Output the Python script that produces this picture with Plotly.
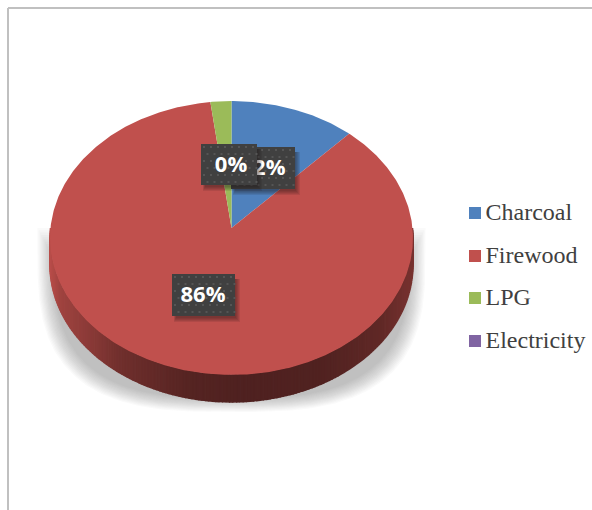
import math
import numpy as np
import plotly.graph_objects as go

categories = ["Charcoal", "Firewood", "LPG", "Electricity"]
values = [12, 86, 2, 0]
colors = ["#4f81bd", "#c0504d", "#9bbb59", "#8064a2"]
label_texts = ["12%", "86%", "0%"]

# projection of the tilted pie onto the picture
CX, CY, RX, RY, PERSP, DEPTH = 231.5, 228.0, 181.0, 136.2, 0.073, 27.0


def project(theta, scale=1.0, dy=0.0):
    s, c = np.sin(theta), np.cos(theta)
    d = 1 + PERSP * c
    return CX + scale * RX * s / d, CY + dy - scale * RY * c / d


fig = go.Figure()


def poly(xs, ys, fill, line=None, width=1.0):
    fig.add_trace(go.Scatter(x=list(xs), y=list(ys), mode="lines", fill="toself", fillcolor=fill,
                             line=dict(color=line or "rgba(0,0,0,0)", width=width if line else 0),
                             hoverinfo="skip", showlegend=False))


# soft, boxy shadow under the pie
N = 14
for i in range(N):
    f = i / (N - 1)
    a = 194 - 16 * f
    b = 162 - 14 * f
    top = 228 + 30 * f
    u = np.linspace(0, math.pi, 160)
    x = CX + a * np.sign(np.cos(u)) * np.abs(np.cos(u)) ** (2 / 3)
    y = 250 + b * np.abs(np.sin(u)) ** (2 / 3)
    poly(np.concatenate([[x[0]], x, [x[-1]]]), np.concatenate([[top], y, [top]]), "rgba(110,110,110,0.032)")

# pie wall with gradient
g_x = [50, 60, 90, 120, 190, 240, 320, 380, 413]
g_r = [0xb8, 0xa0, 0x8a, 0x70, 0x55, 0x4f, 0x50, 0x60, 0x78]
edges = np.radians(np.linspace(90, 270, 180))
for a, b in zip(edges[:-1], edges[1:]):
    tt = np.linspace(a, b, 3)
    xt, yt = project(tt)
    xb, yb = project(tt[::-1], 1.0, DEPTH)
    r = float(np.interp(xt.mean(), g_x, g_r))
    col = f"rgb({r:.1f},{r * 0.42:.1f},{r * 0.40:.1f})"
    poly(np.concatenate([xt, xb]), np.concatenate([yt, yb]), col, line=col, width=1.5)

# top surface of the pie, driven by the values
start = 0.0
total = sum(values)
for v, c in zip(values, colors):
    sweep = 2 * math.pi * v / total
    if v > 0:
        tt = np.linspace(start, start + sweep, max(3, int(v * 6)))
        x, y = project(tt)
        poly(np.concatenate([[CX], x, [CX]]), np.concatenate([[CY], y, [CY]]), c)
    start += sweep


def label_box(x0, x1, y0, y1, text, tx, ty):
    # shadow
    for k in range(5):
        o = 1 + k
        poly([x0 + 4 - k * 0.5, x1 + o, x1 + o, x0 + 4 - k * 0.5],
             [y0 + 5, y0 + 5, y1 + o + 1, y1 + o + 1], "rgba(30,20,20,0.10)")
    poly([x0, x1, x1, x0], [y0, y0, y1, y1], "#404040")
    gx, gy = np.meshgrid(np.arange(x0 + 3, x1 - 1, 7.0), np.arange(y0 + 3, y1 - 1, 7.0))
    gx2 = gx + 3.5 * (np.arange(gx.shape[0])[:, None] % 2)
    fig.add_trace(go.Scatter(x=gx2.ravel(), y=gy.ravel(), mode="markers",
                             marker=dict(symbol="square", size=2, color="#555555"),
                             hoverinfo="skip", showlegend=False))
    fig.add_trace(go.Scatter(x=[tx], y=[ty], mode="text", text=[f"<b>{text}</b>"],
                             textposition="middle center",
                             textfont=dict(family="Open Sans", size=22, color="#ffffff"),
                             hoverinfo="skip", showlegend=False))


label_box(231, 295, 147, 189, label_texts[0], 263, 169)
label_box(172, 235, 274, 316, label_texts[1], 203, 296)
label_box(201, 257, 144, 185, label_texts[2], 231, 166)

# legend
leg_y = [213, 256, 298, 341]
for name, c, ly in zip(categories, colors, leg_y):
    fig.add_trace(go.Scatter(x=[475], y=[ly], mode="markers",
                             marker=dict(symbol="square", size=12, color=c, line=dict(width=0)),
                             hoverinfo="skip", showlegend=False))
    fig.add_trace(go.Scatter(x=[485.5], y=[ly + 0.5], mode="text", text=[name], textposition="middle right",
                             textfont=dict(family="Liberation Serif", size=24, color="#404040"),
                             hoverinfo="skip", showlegend=False))

# chart frame
fig.add_shape(type="line", x0=8, x1=592, y0=8, y1=8, line=dict(color="#c0c0c0", width=2), layer="above")
fig.add_shape(type="line", x0=8, x1=8, y0=8, y1=510, line=dict(color="#c0c0c0", width=2), layer="above")

fig.update_layout(width=592, height=510, autosize=False, margin=dict(l=0, r=0, t=0, b=0),
                  paper_bgcolor="#ffffff", plot_bgcolor="#ffffff", showlegend=False,
                  xaxis=dict(range=[0, 592], visible=False, fixedrange=True),
                  yaxis=dict(range=[510, 0], visible=False, fixedrange=True))
fig.write_html("out.html", config={"displayModeBar": False},
               post_script="document.body.style.margin='0';document.body.style.overflow='hidden';")
